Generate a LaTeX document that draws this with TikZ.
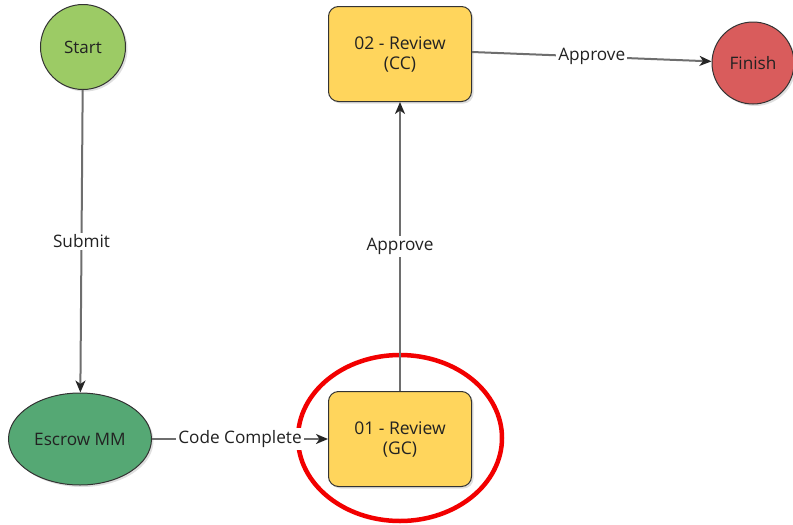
\documentclass[tikz,border=0pt]{standalone}
\usepackage{fontspec}
\setmainfont{Open Sans}
\usetikzlibrary{shapes.geometric,arrows.meta,shadows}
\definecolor{startgreen}{HTML}{9CCB65}
\definecolor{escrowgreen}{HTML}{55A874}
\definecolor{boxyellow}{HTML}{FFD55C}
\definecolor{finishred}{HTML}{D95C5C}
\definecolor{linegray}{HTML}{6E6E6E}
\definecolor{txt}{HTML}{222222}
\definecolor{hlred}{HTML}{F20000}
\tikzset{
  shad/.style={drop shadow={opacity=0.25,shadow xshift=2pt,shadow yshift=-2pt}},
  circ/.style={circle,draw=black!80,line width=1pt,minimum size=#1,inner sep=0pt,shad,text=txt},
  stepbox/.style={rectangle,rounded corners=10pt,draw=black!80,line width=1pt,fill=boxyellow,
    minimum width=143pt,minimum height=95pt,align=center,shad,text=txt,font=\fontsize{17.5}{20}\selectfont},
  conn/.style={draw=linegray,line width=2pt,-{Stealth[length=12pt,width=10pt,inset=3.5pt,color=black!85]}},
  lbl/.style={fill=white,inner sep=2pt,text=txt,font=\fontsize{17.2}{20}\selectfont},
}
\begin{document}
\begin{tikzpicture}[x=1pt,y=-1pt]
\useasboundingbox (0,0) rectangle (793,525);
\clip (0,0) rectangle (793,525);
\node[circ=85pt,fill=startgreen,font=\fontsize{17}{20}\selectfont] (start) at (83,47) {Start};
\node[ellipse,draw=black!80,line width=1pt,fill=escrowgreen,minimum width=143pt,minimum height=92pt,inner sep=0pt,shad,text=txt,font=\fontsize{17.2}{20}\selectfont] (escrow) at (80,439) {Escrow MM};
\node[stepbox] (r1) at (400,439) {01 - Review\\(GC)};
\node[stepbox] (r2) at (400,54) {02 - Review\\(CC)};
\node[circ=82pt,fill=finishred,font=\fontsize{17.2}{20}\selectfont] (finish) at (753,63) {Finish};
\node[ellipse,draw=hlred,line width=4.5pt,minimum width=204pt,minimum height=166pt,inner sep=0pt] (hl) at (400,438) {};
\draw[conn] (start) -- node[lbl] {Submit} (escrow);
\draw[conn] (escrow) -- node[lbl] {Code Complete} (r1);
\draw[conn] (r1) -- node[lbl] {Approve} (r2);
\draw[conn] ([yshift=2pt]r2.east) -- node[lbl] {Approve} (finish);
\end{tikzpicture}
\end{document}
